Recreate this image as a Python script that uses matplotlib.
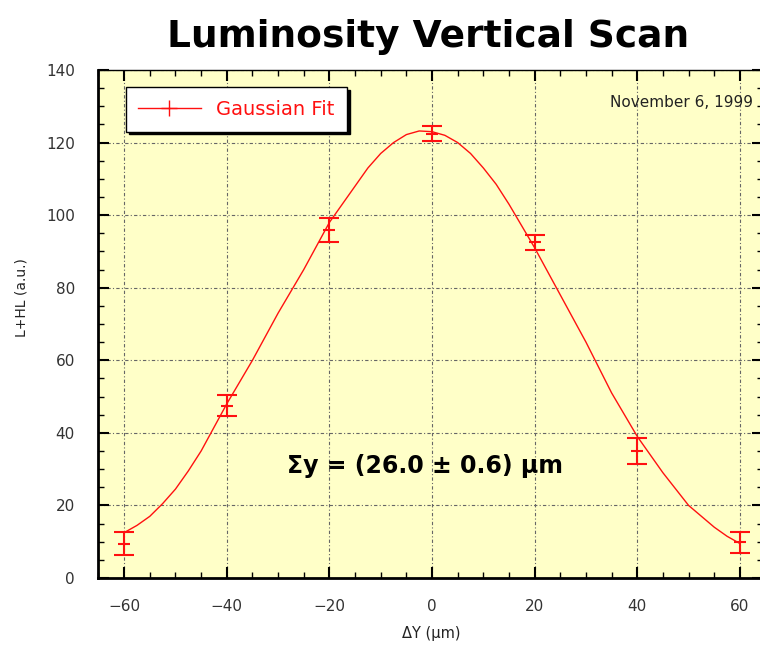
import matplotlib
matplotlib.use("Agg")
import matplotlib.pyplot as plt
from matplotlib.lines import Line2D
from matplotlib.ticker import MultipleLocator

# Scan points (vertical offset, µm) and measured luminosity with errors
scan_dy = [-60, -40, -20, 0, 20, 40, 60]
lumi = [9.5, 47.5, 96.0, 122.5, 92.5, 35.0, 9.8]
lumi_err = [3.2, 2.8, 3.3, 2.2, 2.0, 3.6, 2.9]

# Gaussian fit curve sampled along the scan (every 2.5 µm)
fit_dy = [-60, -57.5, -55, -52.5, -50, -47.5, -45, -42.5, -40, -37.5,
          -35, -32.5, -30, -27.5, -25, -22.5, -20, -17.5, -15, -12.5,
          -10, -7.5, -5, -2.5, 0, 2.5, 5, 7.5, 10, 12.5, 15, 17.5, 20,
          22.5, 25, 27.5, 30, 32.5, 35, 37.5, 40, 42.5, 45, 47.5, 50,
          52.5, 55, 57.5, 60]
fit_lumi = [12.5, 14.5, 17.0, 20.5, 24.5, 29.5, 35.0, 41.5, 48.0, 54.0,
            60.0, 66.5, 73.0, 79.0, 85.0, 91.5, 98.0, 103.0, 108.0, 113.0,
            117.0, 120.0, 122.2, 123.2, 123.0, 122.0, 120.0, 117.0, 113.0,
            108.5, 103.0, 97.0, 91.0, 84.5, 78.0, 71.5, 65.0, 58.0, 51.0,
            45.0, 39.0, 34.0, 29.0, 24.5, 20.0, 17.0, 14.0, 11.5, 9.5]

x_ticks = [-60, -40, -20, 0, 20, 40, 60]
y_ticks = [0, 20, 40, 60, 80, 100, 120, 140]

RED = "#ff1010"
BG = "#ffffc8"

fig = plt.figure(figsize=(7.6, 6.48), dpi=100)
fig.patch.set_facecolor("white")
ax = fig.add_axes([98.5 / 760, 70 / 648, (763 - 98.5) / 760, 508 / 648])
ax.set_facecolor(BG)

ax.plot(fit_dy, fit_lumi, color=RED, lw=1.0, zorder=3)
ax.errorbar(scan_dy, lumi, yerr=lumi_err, fmt="_", color=RED, ms=8,
            mew=1.5, elinewidth=1.5, capsize=7, capthick=2, zorder=4)

ax.set_xlim(-65, 64.5)
ax.set_ylim(0, 140)
ax.set_xticks(x_ticks)
ax.set_yticks(y_ticks)
ax.xaxis.set_minor_locator(MultipleLocator(5))
ax.yaxis.set_minor_locator(MultipleLocator(5))
ax.tick_params(which="both", direction="in", top=True, right=True,
               color="black")
ax.tick_params(which="major", length=8, width=1.5, labelsize=11,
               labelcolor="#333333", pad=15)
ax.tick_params(axis="y", which="major", pad=17)
ax.tick_params(which="minor", length=4, width=1.0)

ax.grid(True, which="major", color="#666666", lw=0.8,
        linestyle=(0, (3, 2, 1, 2)))
ax.set_axisbelow(True)
for side in ["left", "bottom"]:
    ax.spines[side].set_linewidth(2)
for side in ["top", "right"]:
    ax.spines[side].set_linewidth(1)

ax.set_xlabel("ΔY (µm)", fontsize=10.5, color="#222222", labelpad=9)
fig.text(22 / 760, 1 - 298 / 648, "L+HL (a.u.)", rotation=90,
         fontsize=10, color="#222222", ha="center", va="center")

fig.text(0.563, 1 - 37 / 648, "Luminosity Vertical Scan", fontsize=27,
         fontweight="bold", ha="center", va="center")

ax.text(62.5, 131, "November 6, 1999", fontsize=11, ha="right",
        va="center", color="#222222")
ax.text(-1.3, 31, "Σy = (26.0 ± 0.6) µm", fontsize=17, fontweight="bold",
        ha="center", va="center", color="black")

handle = Line2D([], [], color=RED, lw=1.0, marker="+", ms=12, mew=1.0)
leg = ax.legend([handle], ["Gaussian Fit"], loc="upper left",
                bbox_to_anchor=(0.041, 0.966), borderaxespad=0,
                fontsize=14, labelcolor=RED,
                fancybox=False, edgecolor="black", framealpha=1,
                handlelength=3.2, borderpad=0.65,
                shadow={"color": "black", "alpha": 1})
leg.get_frame().set_linewidth(1.0)

fig.savefig("out.png", dpi=100, facecolor="white")
